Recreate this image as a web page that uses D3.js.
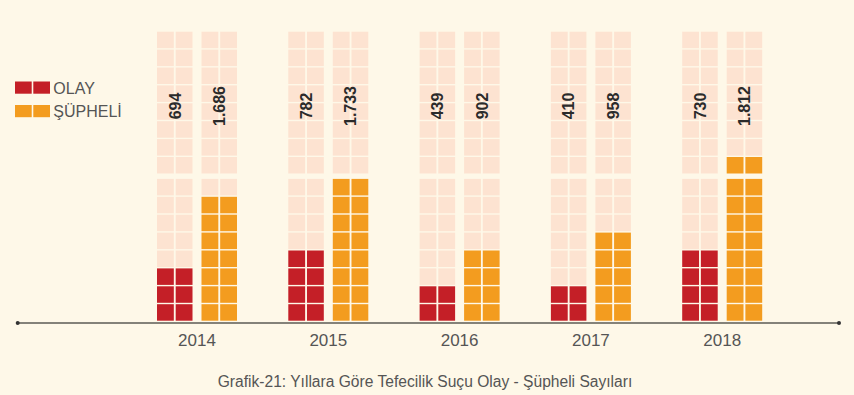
<!DOCTYPE html>
<html>
<head>
<meta charset="utf-8">
<script src="https://cdn.jsdelivr.net/npm/d3@7"></script>
<style>
  html, body { margin: 0; padding: 0; background: #fef8e8; }
  svg { display: block; font-family: "Liberation Sans", Arial, sans-serif; }
</style>
</head>
<body>
<div id="chart"></div>
<script>
"use strict"

// values
const years = ["2014", "2015", "2016", "2017", "2018"];
const seriesNames = ["OLAY", "ŞÜPHELİ"];
const olayValues = [694, 782, 439, 410, 730];
const supheliValues = [1686, 1733, 902, 958, 1812];
// filled cells (rows of two) per column, as drawn
const olayRows = [3, 4, 2, 2, 4];
const supheliRows = [7, 8, 4, 5, 9];
const totalRows = 16;
const caption = "Grafik-21: Yıllara Göre Tefecilik Suçu Olay - Şüpheli Sayıları";

let WaffleBars = function(targetID) {
	let self = {
		totalWidth: 854,
		totalHeight: 395,
		baseY: 320.7,
		rowPitch: 17.9,
		cellH: 16.5,
		midGap: 4,
		colors: { "OLAY": "#c41f27", "ŞÜPHELİ": "#f39c1f" },
		emptyColor: "#fde3d1",
		textColor: "#555555",
		xGroup: d3.scalePoint(),
		xSeries: d3.scaleBand(),
		xCell: d3.scaleBand(),
		yRow: d3.scaleLinear(),
		svg: null,
	};

	const fmt = d3.formatLocale({ decimal: ",", thousands: ".", grouping: [3], currency: ["", ""] }).format(",");

	function rowTop(r) {
		// extra gap between the lower and upper halves of each column
		return self.yRow(r) - (r >= totalRows / 2 ? self.midGap : 0) - self.cellH;
	}

	function draw() {
		self.svg = d3.select(targetID).append("svg")
			.attr("width", self.totalWidth)
			.attr("height", self.totalHeight);

		self.svg.append("rect")
			.attr("width", self.totalWidth)
			.attr("height", self.totalHeight)
			.attr("fill", "#fef8e8");

		self.xGroup.domain(years).range([197, 722.2]);
		self.xSeries.domain(seriesNames).range([-40, 40]).paddingInner(0.202).paddingOuter(0);
		self.xCell.domain([0, 1]).range([0, self.xSeries.bandwidth()]).paddingInner(0.1).paddingOuter(0);
		self.yRow.domain([0, 1]).range([self.baseY, self.baseY - self.rowPitch]);

		let columns = [];
		years.forEach((y, i) => {
			columns.push({ year: y, key: "OLAY", value: olayValues[i], rows: olayRows[i] });
			columns.push({ year: y, key: "ŞÜPHELİ", value: supheliValues[i], rows: supheliRows[i] });
		});

		let cols = self.svg.append("g").selectAll("g")
			.data(columns)
			.enter().append("g")
				.attr("transform", d => "translate(" + (self.xGroup(d.year) + self.xSeries(d.key)) + ",0)");

		cols.selectAll("rect")
			.data(d => {
				let cells = [];
				for (let r = 0; r < totalRows; r++) {
					for (let c = 0; c < 2; c++) {
						cells.push({ r: r, c: c, filled: r < d.rows, key: d.key });
					}
				}
				return cells;
			})
			.enter().append("rect")
				.attr("x", d => self.xCell(d.c))
				.attr("y", d => rowTop(d.r))
				.attr("width", self.xCell.bandwidth())
				.attr("height", self.cellH)
				.attr("fill", d => d.filled ? self.colors[d.key] : self.emptyColor);

		cols.append("text")
			.attr("transform", "translate(" + (self.xSeries.bandwidth() / 2) + ",106) rotate(-90)")
			.attr("text-anchor", "middle")
			.attr("dy", "0.36em")
			.attr("font-size", 16)
			.attr("font-weight", "bold")
			.attr("fill", "#2b2b2b")
			.text(d => fmt(d.value));

		// baseline axis
		let axis = self.svg.append("g");
		axis.append("line")
			.attr("x1", 17.7).attr("x2", 839)
			.attr("y1", 323).attr("y2", 323)
			.attr("stroke", "#5b5b55")
			.attr("stroke-width", 1.6);
		axis.selectAll("circle")
			.data([17.7, 839])
			.enter().append("circle")
				.attr("cx", d => d).attr("cy", 323).attr("r", 2)
				.attr("fill", "#333");

		axis.selectAll(".year")
			.data(years)
			.enter().append("text")
				.attr("class", "year")
				.attr("x", d => self.xGroup(d))
				.attr("y", 346)
				.attr("text-anchor", "middle")
				.attr("font-size", 17)
				.attr("fill", self.textColor)
				.text(d => d);

		drawLegend();

		self.svg.append("text")
			.attr("x", 425)
			.attr("y", 386.5)
			.attr("text-anchor", "middle")
			.attr("font-size", 15.6)
			.attr("fill", self.textColor)
			.text(caption);
	}

	function drawLegend() {
		let legend = self.svg.append("g").selectAll("g")
			.data(seriesNames)
			.enter().append("g")
				.attr("transform", (d, i) => "translate(15," + (81.5 + i * 23.5) + ")");

		legend.selectAll("rect")
			.data(d => [0, 1].map(c => ({ c: c, key: d })))
			.enter().append("rect")
				.attr("x", d => d.c * 18.3)
				.attr("width", 16.7)
				.attr("height", 12.2)
				.attr("fill", d => self.colors[d.key]);

		legend.append("text")
			.attr("x", 38.3)
			.attr("y", 12)
			.attr("font-size", 16)
			.attr("fill", self.textColor)
			.text(d => d);
	}

	return { draw };
};

WaffleBars("#chart").draw();
</script>
</body>
</html>
